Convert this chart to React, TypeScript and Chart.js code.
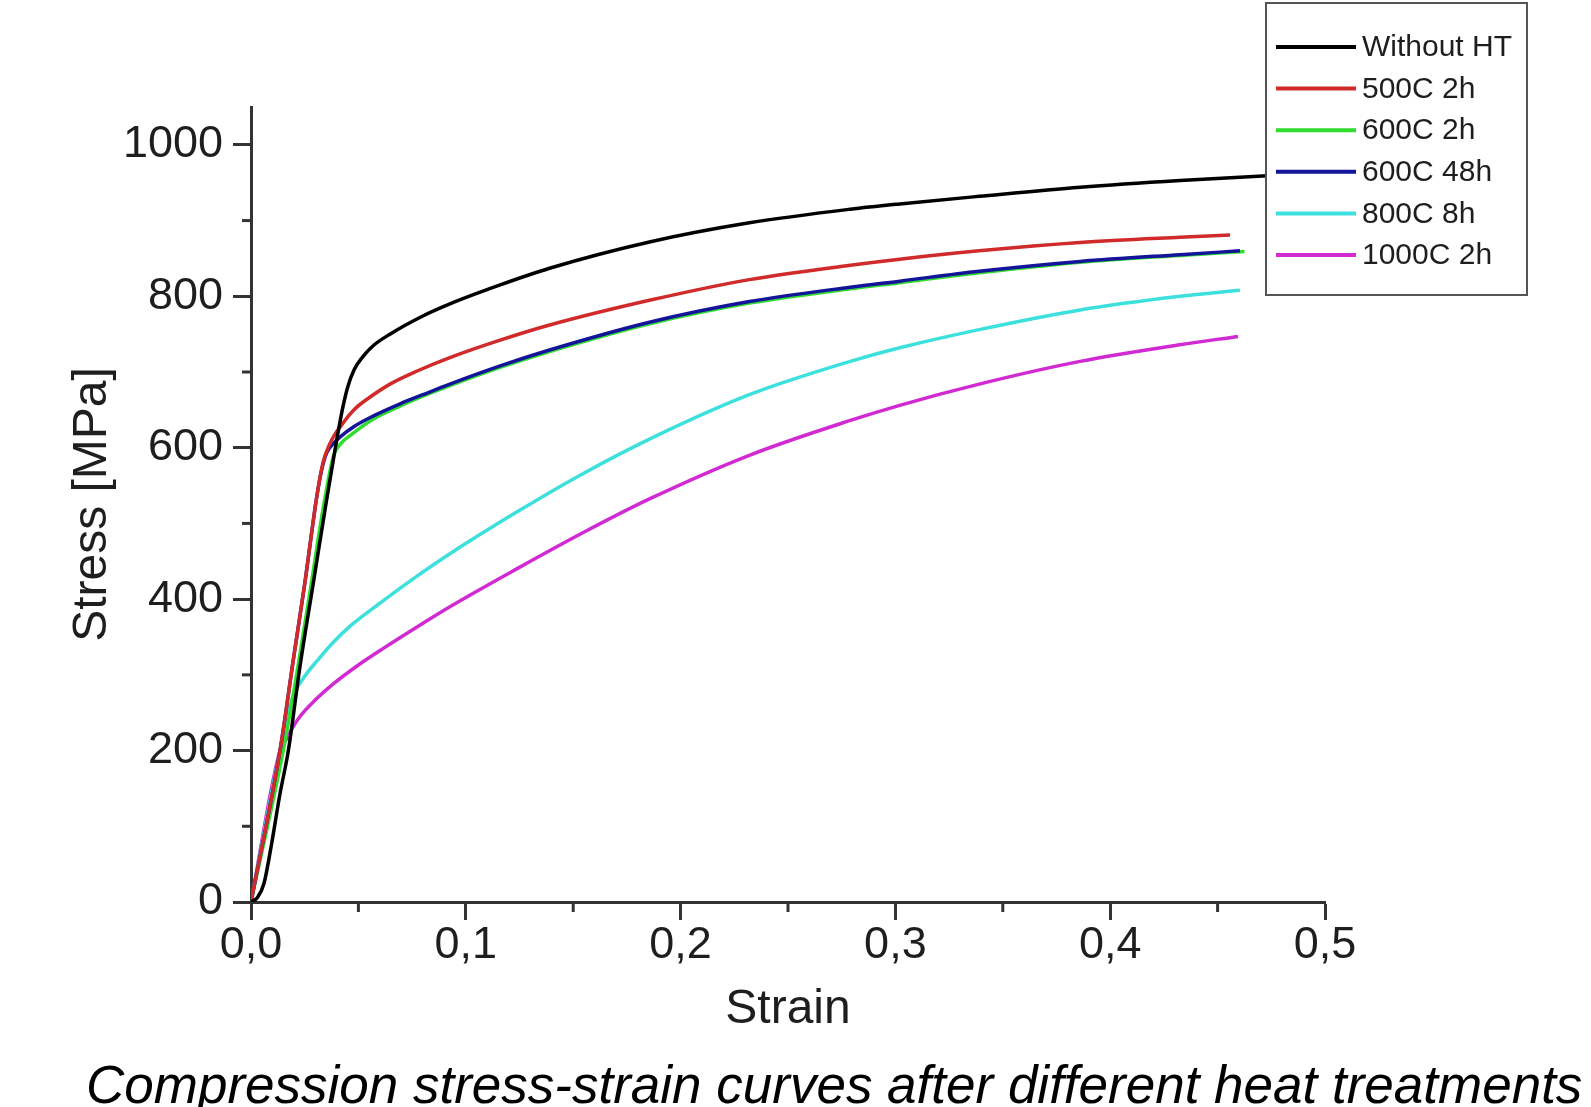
import React, { useEffect, useRef } from 'react';
import { Chart, registerables } from 'chart.js';

Chart.register(...registerables);

// ---------- data ----------
const seriesNames = ['Without HT', '500C 2h', '600C 2h', '600C 48h', '800C 8h', '1000C 2h'];
const seriesColors = ['#000000', '#d02a2a', '#2fdc2f', '#14149a', '#3ce0dc', '#d22ad2'];

const strainWithoutHT = [0, 0.003, 0.006, 0.0096, 0.0135, 0.0174, 0.0228, 0.029, 0.0352, 0.0391, 0.0425, 0.045, 0.048, 0.052, 0.057, 0.0647, 0.08, 0.0926, 0.116, 0.139, 0.186, 0.232, 0.279, 0.302, 0.339, 0.386, 0.4325, 0.471, 0.48];
const stressWithoutHT = [0, 6, 24, 77, 143, 200, 311, 421, 531, 597, 650, 680, 703, 720, 735, 750, 774, 790, 815, 837, 872, 897, 915, 922, 932, 944, 953, 959, 960];

const strain500C2h = [0, 0.0135, 0.0197, 0.025, 0.0306, 0.0335, 0.0365, 0.0391, 0.0414, 0.046, 0.049, 0.054, 0.0647, 0.0771, 0.0926, 0.116, 0.139, 0.186, 0.232, 0.279, 0.302, 0.339, 0.386, 0.4325, 0.4558];
const stress500C2h = [0, 200, 320, 420, 535, 580, 604, 618, 627, 644, 653, 664, 684, 701, 719, 742, 762, 795, 822, 841, 849, 860, 871, 878, 881];

const strain600C2h = [0, 0.015, 0.0215, 0.0275, 0.033, 0.0365, 0.0385, 0.042, 0.047, 0.057, 0.0694, 0.08, 0.0926, 0.116, 0.139, 0.186, 0.232, 0.279, 0.302, 0.339, 0.386, 0.4325, 0.4625];
const stress600C2h = [0, 200, 305, 410, 510, 565, 590, 606, 618, 638, 655, 668, 682, 706, 727, 764, 791, 810, 818, 831, 845, 854, 859];

const strain600C48h = [0, 0.0135, 0.0197, 0.025, 0.0306, 0.033, 0.0352, 0.0385, 0.0414, 0.048, 0.057, 0.0694, 0.08, 0.0926, 0.116, 0.139, 0.186, 0.232, 0.279, 0.302, 0.339, 0.386, 0.4325, 0.4604];
const stress600C48h = [0, 200, 320, 420, 535, 572, 593, 606, 614, 628, 642, 658, 670, 684, 708, 729, 766, 793, 812, 820, 833, 846, 855, 860];

const strain800C8h = [0, 0.0135, 0.0185, 0.0205, 0.023, 0.0265, 0.0306, 0.038, 0.046, 0.0616, 0.0771, 0.0926, 0.1237, 0.1547, 0.186, 0.232, 0.279, 0.302, 0.339, 0.386, 0.4325, 0.4604];
const stress800C8h = [0, 200, 262, 278, 290, 304, 318, 342, 364, 398, 430, 460, 515, 566, 612, 670, 714, 732, 756, 782, 800, 808];

const strain1000C2h = [0, 0.0135, 0.0165, 0.0185, 0.0228, 0.03, 0.0383, 0.05, 0.0616, 0.0771, 0.0926, 0.1237, 0.1547, 0.186, 0.232, 0.279, 0.302, 0.339, 0.386, 0.4325, 0.4595];
const stress1000C2h = [0, 200, 215, 226, 245, 267, 288, 313, 335, 363, 390, 440, 488, 533, 590, 636, 656, 684, 714, 736, 747];

const xTickLabels = ['0,0', '0,1', '0,2', '0,3', '0,4', '0,5'];
const minorXTicks = [0.05, 0.15, 0.25, 0.35, 0.45];
const minorYTicks = [100, 300, 500, 700, 900];

const xTitle = 'Strain';
const yTitle = 'Stress [MPa]';
const caption = 'Compression stress-strain curves after different heat treatments';

// ---------- helpers ----------
const FONT = "'Liberation Sans', Arial, sans-serif";
const AXIS = '#333333';
const TEXT = '#1e1e1e';

const toPoints = (xs: number[], ys: number[]) => xs.map((x, i) => ({ x, y: ys[i] }));

const allSeries = [
  toPoints(strainWithoutHT, stressWithoutHT),
  toPoints(strain500C2h, stress500C2h),
  toPoints(strain600C2h, stress600C2h),
  toPoints(strain600C48h, stress600C48h),
  toPoints(strain800C8h, stress800C8h),
  toPoints(strain1000C2h, stress1000C2h),
];
// drawing order (lower = on top)
const drawOrder = [0, 1, 3, 2, 4, 5];

const extrasPlugin = {
  id: 'extras',
  afterDraw(chart: any) {
    const ctx = chart.ctx as CanvasRenderingContext2D;
    const xs = chart.scales.x;
    const ys = chart.scales.y;
    const { left, bottom } = chart.chartArea;
    ctx.save();
    ctx.strokeStyle = AXIS;
    ctx.lineWidth = 3;
    ctx.lineCap = 'butt';
    // minor ticks
    for (const v of minorXTicks) {
      const px = xs.getPixelForValue(v);
      ctx.beginPath();
      ctx.moveTo(px, bottom);
      ctx.lineTo(px, bottom + 10);
      ctx.stroke();
    }
    for (const v of minorYTicks) {
      const py = ys.getPixelForValue(v);
      ctx.beginPath();
      ctx.moveTo(left, py);
      ctx.lineTo(left - 9, py);
      ctx.stroke();
    }
    // legend box
    const bx = 1266, by = 3, bw = 261, bh = 292;
    ctx.fillStyle = '#ffffff';
    ctx.fillRect(bx, by, bw, bh);
    ctx.strokeStyle = '#555555';
    ctx.lineWidth = 2;
    ctx.strokeRect(bx, by, bw, bh);
    ctx.font = `30px ${FONT}`;
    ctx.textBaseline = 'middle';
    ctx.textAlign = 'left';
    chart.data.datasets.forEach((ds: any, i: number) => {
      const y = 47 + i * 41.6;
      ctx.strokeStyle = ds.borderColor;
      ctx.lineWidth = 4;
      ctx.beginPath();
      ctx.moveTo(1276, y);
      ctx.lineTo(1356, y);
      ctx.stroke();
      ctx.fillStyle = TEXT;
      ctx.fillText(ds.label, 1362, y + 1);
    });
    ctx.restore();
  },
};

export default function App() {
  const ref = useRef<HTMLCanvasElement>(null);

  useEffect(() => {
    if (!ref.current) return;
    const chart = new Chart(ref.current, {
      type: 'line',
      data: {
        datasets: seriesNames.map((name, i) => ({
          label: name,
          data: allSeries[i],
          borderColor: seriesColors[i],
          backgroundColor: seriesColors[i],
          borderWidth: 3.5,
          pointRadius: 0,
          fill: false,
          cubicInterpolationMode: 'monotone' as const,
          order: drawOrder[i],
        })),
      },
      options: {
        animation: false,
        responsive: false,
        devicePixelRatio: 1,
        layout: { padding: { left: 0, right: 266, top: 107, bottom: 0 } },
        plugins: {
          legend: { display: false },
          tooltip: { enabled: false },
          title: { display: false },
        },
        scales: {
          x: {
            type: 'linear',
            min: 0,
            max: 0.5,
            afterFit: (scale: any) => {
              scale.height = 205;
            },
            border: { display: true, color: AXIS, width: 3 },
            grid: {
              display: true,
              drawOnChartArea: false,
              drawTicks: true,
              tickLength: 18,
              tickWidth: 3,
              tickColor: AXIS,
            },
            ticks: {
              stepSize: 0.1,
              autoSkip: false,
              maxRotation: 0,
              padding: 3,
              color: TEXT,
              font: { family: FONT, size: 45, lineHeight: 1 },
              callback: (v: any) => xTickLabels[Math.round(Number(v) * 10)] ?? '',
            },
            title: {
              display: true,
              text: xTitle,
              color: TEXT,
              font: { family: FONT, size: 48 },
              padding: { top: 0, bottom: 68 },
            },
          },
          y: {
            type: 'linear',
            min: 0,
            max: 1050,
            afterFit: (scale: any) => {
              scale.width = 251;
            },
            border: { display: true, color: AXIS, width: 3 },
            grid: {
              display: true,
              drawOnChartArea: false,
              drawTicks: true,
              tickLength: 18,
              tickWidth: 3,
              tickColor: AXIS,
            },
            ticks: {
              stepSize: 200,
              includeBounds: false,
              autoSkip: false,
              padding: 10,
              color: TEXT,
              font: { family: FONT, size: 45, lineHeight: 1 },
              callback: (v: any) => String(v),
            },
            title: {
              display: true,
              text: yTitle,
              color: TEXT,
              font: { family: FONT, size: 48 },
              padding: { top: 64, bottom: 0 },
            },
          },
        },
      },
      plugins: [extrasPlugin],
    } as any);
    return () => chart.destroy();
  }, []);

  return (
    <div
      style={{
        position: 'fixed',
        left: 0,
        top: 0,
        width: 1591,
        height: 1107,
        background: '#ffffff',
        overflow: 'hidden',
      }}
    >
      <canvas
        ref={ref}
        width={1591}
        height={1107}
        style={{ position: 'absolute', left: 0, top: 0, width: 1591, height: 1107 }}
      />
      <div
        style={{
          position: 'absolute',
          left: 86,
          top: 1058,
          fontFamily: FONT,
          fontStyle: 'italic',
          fontSize: 53,
          lineHeight: '53px',
          color: '#000000',
          whiteSpace: 'nowrap',
        }}
      >
        {caption}
      </div>
    </div>
  );
}
